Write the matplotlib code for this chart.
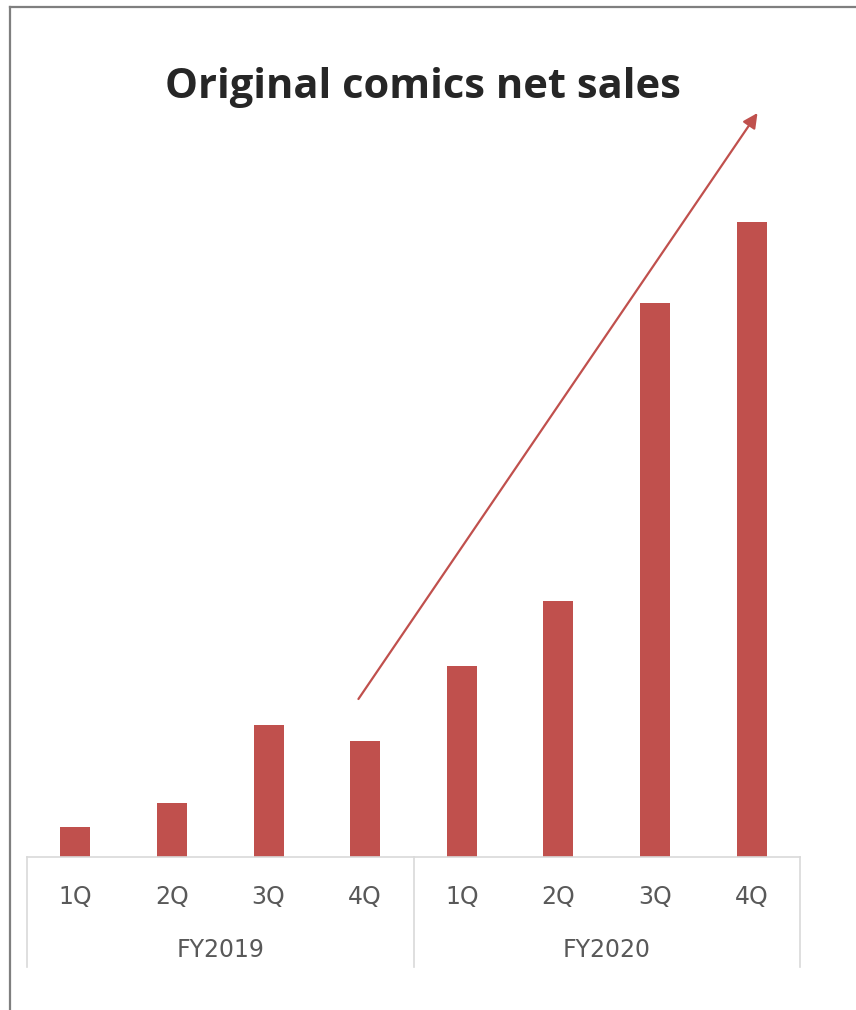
import matplotlib.pyplot as plt
from matplotlib.lines import Line2D

# 季度与年份分组
quarters = ['1Q', '2Q', '3Q', '4Q', '1Q', '2Q', '3Q', '4Q']
years = ['FY2019', 'FY2020']
# 原创漫画净销售额（无纵轴，按相对高度）
sales = [30, 54, 132, 116, 191, 256, 554, 635]

bar_color = '#c0504d'
grid_color = '#d9d9d9'
text_color = '#595959'

fig = plt.figure(figsize=(8.56, 10.10), dpi=100)
W, H = 856, 1010
ax = fig.add_axes([27 / W, 1 - 857 / H, (800 - 27) / W, (857 - 97) / H])

x = list(range(len(sales)))
ax.bar(x, sales, width=0.31, color=bar_color)
ax.set_xlim(-0.5, 7.5)
ax.set_ylim(0, 760)
ax.set_xticks([])
ax.set_yticks([])
for s in ['top', 'left', 'right']:
    ax.spines[s].set_visible(False)
ax.spines['bottom'].set_color(grid_color)
ax.spines['bottom'].set_linewidth(1.2)

# 分类标签
trans = ax.get_xaxis_transform()
for i, q in enumerate(quarters):
    ax.text(i, -40 / 760, q, transform=trans, ha='center', va='center',
            fontsize=17, color=text_color, family='DejaVu Sans')
for j, y in enumerate(years):
    ax.text(j * 4 + 1.5, -93 / 760, y, transform=trans, ha='center', va='center',
            fontsize=17, color=text_color, family='DejaVu Sans')
# 年份分隔线
for xs in [-0.5, 3.5, 7.5]:
    ax.plot([xs, xs], [0, -110 / 760], transform=trans, color=grid_color,
            lw=1.2, clip_on=False)

# 增长趋势箭头
ax.annotate('', xy=(7.06, 744), xytext=(2.93, 158),
            arrowprops=dict(arrowstyle='-|>', color=bar_color, lw=1.6,
                            mutation_scale=22, shrinkA=0, shrinkB=0),
            annotation_clip=False)

fig.text(423 / W, 1 - 88 / H, 'Original comics net sales', ha='center', va='center',
         fontsize=30, fontweight='bold', color='#262626', family='Open Sans')

# 外框
fig.add_artist(Line2D([9.5 / W, 9.5 / W], [0, 1 - 6.5 / H], color='#7f7f7f', lw=1.6))
fig.add_artist(Line2D([9.5 / W, 1], [1 - 6.5 / H, 1 - 6.5 / H], color='#7f7f7f', lw=1.6))

fig.savefig('out.png', dpi=100)
